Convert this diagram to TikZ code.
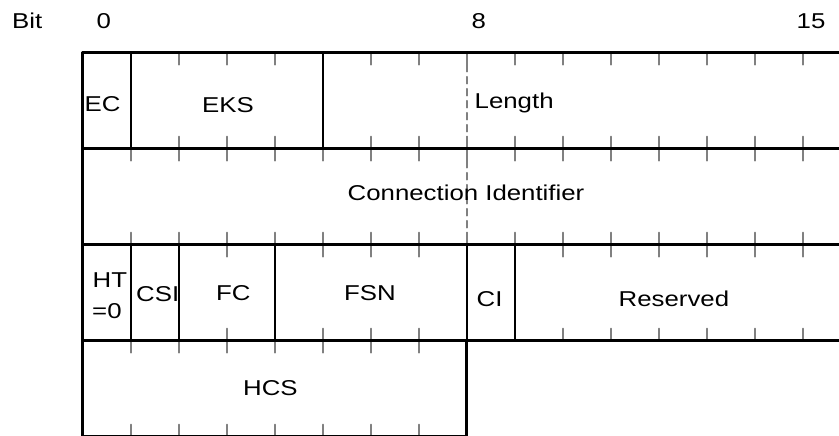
\documentclass[tikz,border=0pt]{standalone}
\usepackage{fontspec}
\usepackage{tikz}
\usetikzlibrary{positioning}
\newfontfamily\fieldfont[FakeStretch=1.2]{Liberation Sans}

\tikzset{
  frameline/.style={line width=3.3pt},
  fieldline/.style={line width=1.9pt},
  bittick/.style={gray, line width=2pt},
  midline/.style={gray, line width=1.6pt, dash pattern=on 7pt off 5pt},
  fieldtext/.style={inner sep=0pt, anchor=base west,
    font=\fieldfont\fontsize{21.5}{31}\selectfont}
}

\begin{document}
\begin{tikzpicture}[x=1pt,y=-1pt, line cap=round, line join=round]
\clip (0,0) rectangle (839,436);

% Bit ticks, every 48 px, at the top and bottom of each row
\foreach \r/\n in {0/15,1/15,2/15,3/7}{
  \foreach \k in {1,...,\n}{
    \draw[bittick] ({82.7+48*\k},{52.7+96*\r}) -- ++(0,12);
    \draw[bittick] ({82.7+48*\k},{148.7+96*\r}) -- ++(0,-12);
  }
}

% Octet boundary
\draw[midline] (466.7,52.7) -- (466.7,244.7);

% Field separators
\draw[fieldline] (130.7,52.7) -- (130.7,148.7);
\draw[fieldline] (322.7,52.7) -- (322.7,148.7);
\foreach \x in {130.7,178.7,274.7,466.7,514.7}
  \draw[fieldline] (\x,244.7) -- (\x,340.7);

% Frame and row lines
\draw[frameline] (850.7,52.7) -- (82.7,52.7) -- (82.7,436.7) -- (466.7,436.7) -- (466.7,340.7);
\draw[frameline] (850.7,52.7) -- (850.7,340.7);
\foreach \y in {148.7,244.7,340.7}
  \draw[frameline] (82.7,\y) -- (850.7,\y);

% Header
\node[fieldtext] (bitlbl) at (12,28.3) {Bit};
\node[fieldtext] (bit0) at (96.5,28.3) {0};
\node[fieldtext] (bit8) at (471.5,28.3) {8};
\node[fieldtext] (bit15) at (796.5,28.3) {15};

% Row 1
\node[fieldtext] (ec) at (84.5,111.7) {EC};
\node[fieldtext] (eks) at (202,112.5) {EKS};
\node[fieldtext] (len) at (474.5,108.3) {Length};

% Row 2
\node[fieldtext] (cid) at (347.5,200) {Connection Identifier};

% Row 3
\node[fieldtext] (ht) at (92.5,287) {HT};
\node[fieldtext] (ht0) at (92,318) {=0};
\node[fieldtext] (csi) at (136,301.5) {CSI};
\node[fieldtext] (fc) at (216,300) {FC};
\node[fieldtext] (fsn) at (344,300) {FSN};
\node[fieldtext] (ci) at (476.5,306) {CI};
\node[fieldtext] (res) at (618.5,306) {Reserved};

% Row 4
\node[fieldtext] (hcs) at (243,395) {HCS};
\end{tikzpicture}
\end{document}
